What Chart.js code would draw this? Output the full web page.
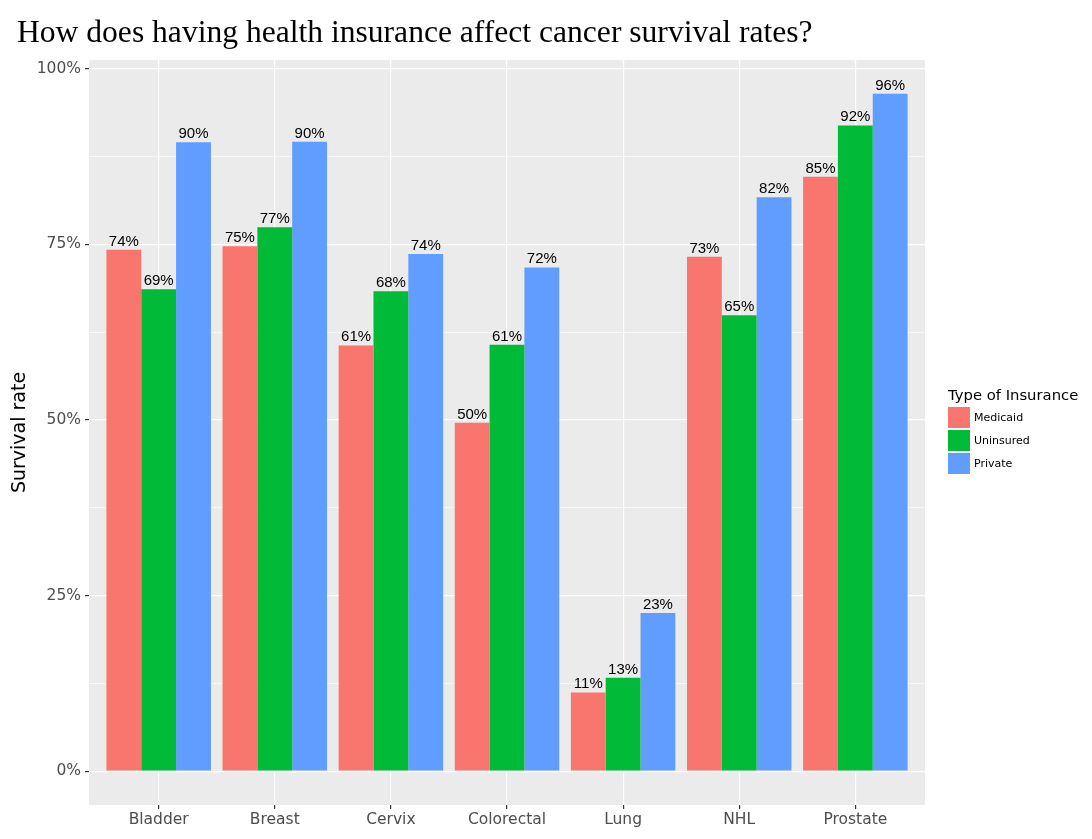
<!DOCTYPE html>
<html>
<head>
<meta charset="utf-8">
<script src="https://cdn.jsdelivr.net/npm/chart.js@4/dist/chart.umd.min.js"></script>
<style>
  html, body { margin: 0; padding: 0; background: #fff; }
  canvas { display: block; }
</style>
</head>
<body>
<canvas id="chart" width="1092" height="839"></canvas>
<script>
// survival rate by cancer type and insurance (%)
const cancers = ["Bladder", "Breast", "Cervix", "Colorectal", "Lung", "NHL", "Prostate"];
const medicaid = [74.2, 74.7, 60.6, 49.6, 11.2, 73.2, 84.6];
const uninsured = [68.6, 77.4, 68.3, 60.7, 13.3, 64.9, 91.9];
const priv = [89.5, 89.6, 73.6, 71.7, 22.5, 81.7, 96.4];
const yTicks = [0, 12.5, 25, 37.5, 50, 62.5, 75, 87.5, 100];

const titleText = "How does having health insurance affect cancer survival rates?";
const legendTitle = "Type of Insurance";

const allVals = medicaid.concat(uninsured, priv);
const maxVal = Math.max(...allVals);

const toPoints = arr => arr.map((v, i) => ({ x: i, y: v }));

// panel background + title
const panelBg = {
  id: "panelBg",
  beforeDraw(chart) {
    const { ctx, chartArea: a } = chart;
    ctx.save();
    ctx.fillStyle = "#EBEBEB";
    ctx.fillRect(a.left, a.top, a.right - a.left, a.bottom - a.top);

    // title, sized to the width it takes in the original
    let size = 30;
    ctx.font = size + "px 'Liberation Serif'";
    const w = ctx.measureText(titleText).width;
    size = size * 796 / w;
    ctx.font = size + "px 'Liberation Serif'";
    ctx.fillStyle = "#000";
    ctx.textBaseline = "alphabetic";
    ctx.fillText(titleText, 17, 42);
    ctx.restore();
  }
};

// percentage labels above bars
const barLabels = {
  id: "barLabels",
  afterDatasetsDraw(chart) {
    const { ctx } = chart;
    ctx.save();
    ctx.font = "15px 'Liberation Sans'";
    ctx.fillStyle = "#000";
    ctx.textAlign = "center";
    ctx.textBaseline = "alphabetic";
    chart.data.datasets.forEach((ds, di) => {
      chart.getDatasetMeta(di).data.forEach((el, i) => {
        ctx.fillText(Math.round(ds.data[i].y) + "%", el.x, el.y - 4);
      });
    });
    ctx.restore();
  }
};

// ggplot-like legend on the right
const sideLegend = {
  id: "sideLegend",
  afterDraw(chart) {
    const { ctx } = chart;
    ctx.save();
    ctx.fillStyle = "#000";
    ctx.font = "14.8px 'DejaVu Sans'";
    ctx.textBaseline = "alphabetic";
    ctx.fillText(legendTitle, 948, 400);
    ctx.font = "11px 'DejaVu Sans'";
    ctx.textBaseline = "middle";
    chart.data.datasets.forEach((ds, i) => {
      const y = 407 + i * 23;
      ctx.fillStyle = ds.backgroundColor;
      ctx.fillRect(948, y, 22, 21);
      ctx.fillStyle = "#000";
      ctx.fillText(ds.label, 974, y + 11);
    });
    ctx.restore();
  }
};

new Chart(document.getElementById("chart"), {
  type: "bar",
  data: {
    datasets: [
      { label: "Medicaid", data: toPoints(medicaid), backgroundColor: "#F8766D" },
      { label: "Uninsured", data: toPoints(uninsured), backgroundColor: "#00BA38" },
      { label: "Private", data: toPoints(priv), backgroundColor: "#619CFF" }
    ]
  },
  options: {
    responsive: false,
    animation: false,
    events: [],
    categoryPercentage: 0.9,
    barPercentage: 1.0,
    layout: { padding: { top: 60, right: 167, bottom: 0, left: 0 } },
    plugins: {
      legend: { display: false },
      title: { display: false },
      tooltip: { enabled: false }
    },
    scales: {
      x: {
        type: "linear",
        offset: false,
        min: -0.6,
        max: cancers.length - 0.4,
        afterBuildTicks: s => { s.ticks = cancers.map((c, i) => ({ value: i })); },
        afterFit: s => { s.height = 34; },
        border: { display: false },
        grid: { offset: false, color: "#FFFFFF", lineWidth: 1.2, tickColor: "#333333", tickLength: 4 },
        ticks: {
          callback: v => cancers[v],
          color: "#4D4D4D",
          font: { family: "'DejaVu Sans'", size: 15.5 },
          padding: 2,
          maxRotation: 0
        }
      },
      y: {
        min: -maxVal * 0.05,
        max: maxVal * 1.05,
        afterBuildTicks: s => { s.ticks = yTicks.map(v => ({ value: v })); },
        afterFit: s => { s.width = 89; },
        border: { display: false },
        grid: {
          color: "#FFFFFF",
          lineWidth: c => (c.tick && c.tick.value % 25 === 0) ? 1.2 : 0.6,
          tickColor: c => (c.tick && c.tick.value % 25 === 0) ? "#333333" : "rgba(0,0,0,0)",
          tickLength: 4
        },
        ticks: {
          callback: v => (v % 25 === 0) ? v + "%" : "",
          color: "#4D4D4D",
          font: { family: "'DejaVu Sans'", size: 15.5 },
          padding: 4
        },
        title: {
          display: true,
          text: "Survival rate",
          color: "#000",
          font: { family: "'DejaVu Sans'", size: 19 },
          padding: { top: 9, bottom: 0 }
        }
      }
    }
  },
  plugins: [panelBg, barLabels, sideLegend]
});
</script>
</body>
</html>
